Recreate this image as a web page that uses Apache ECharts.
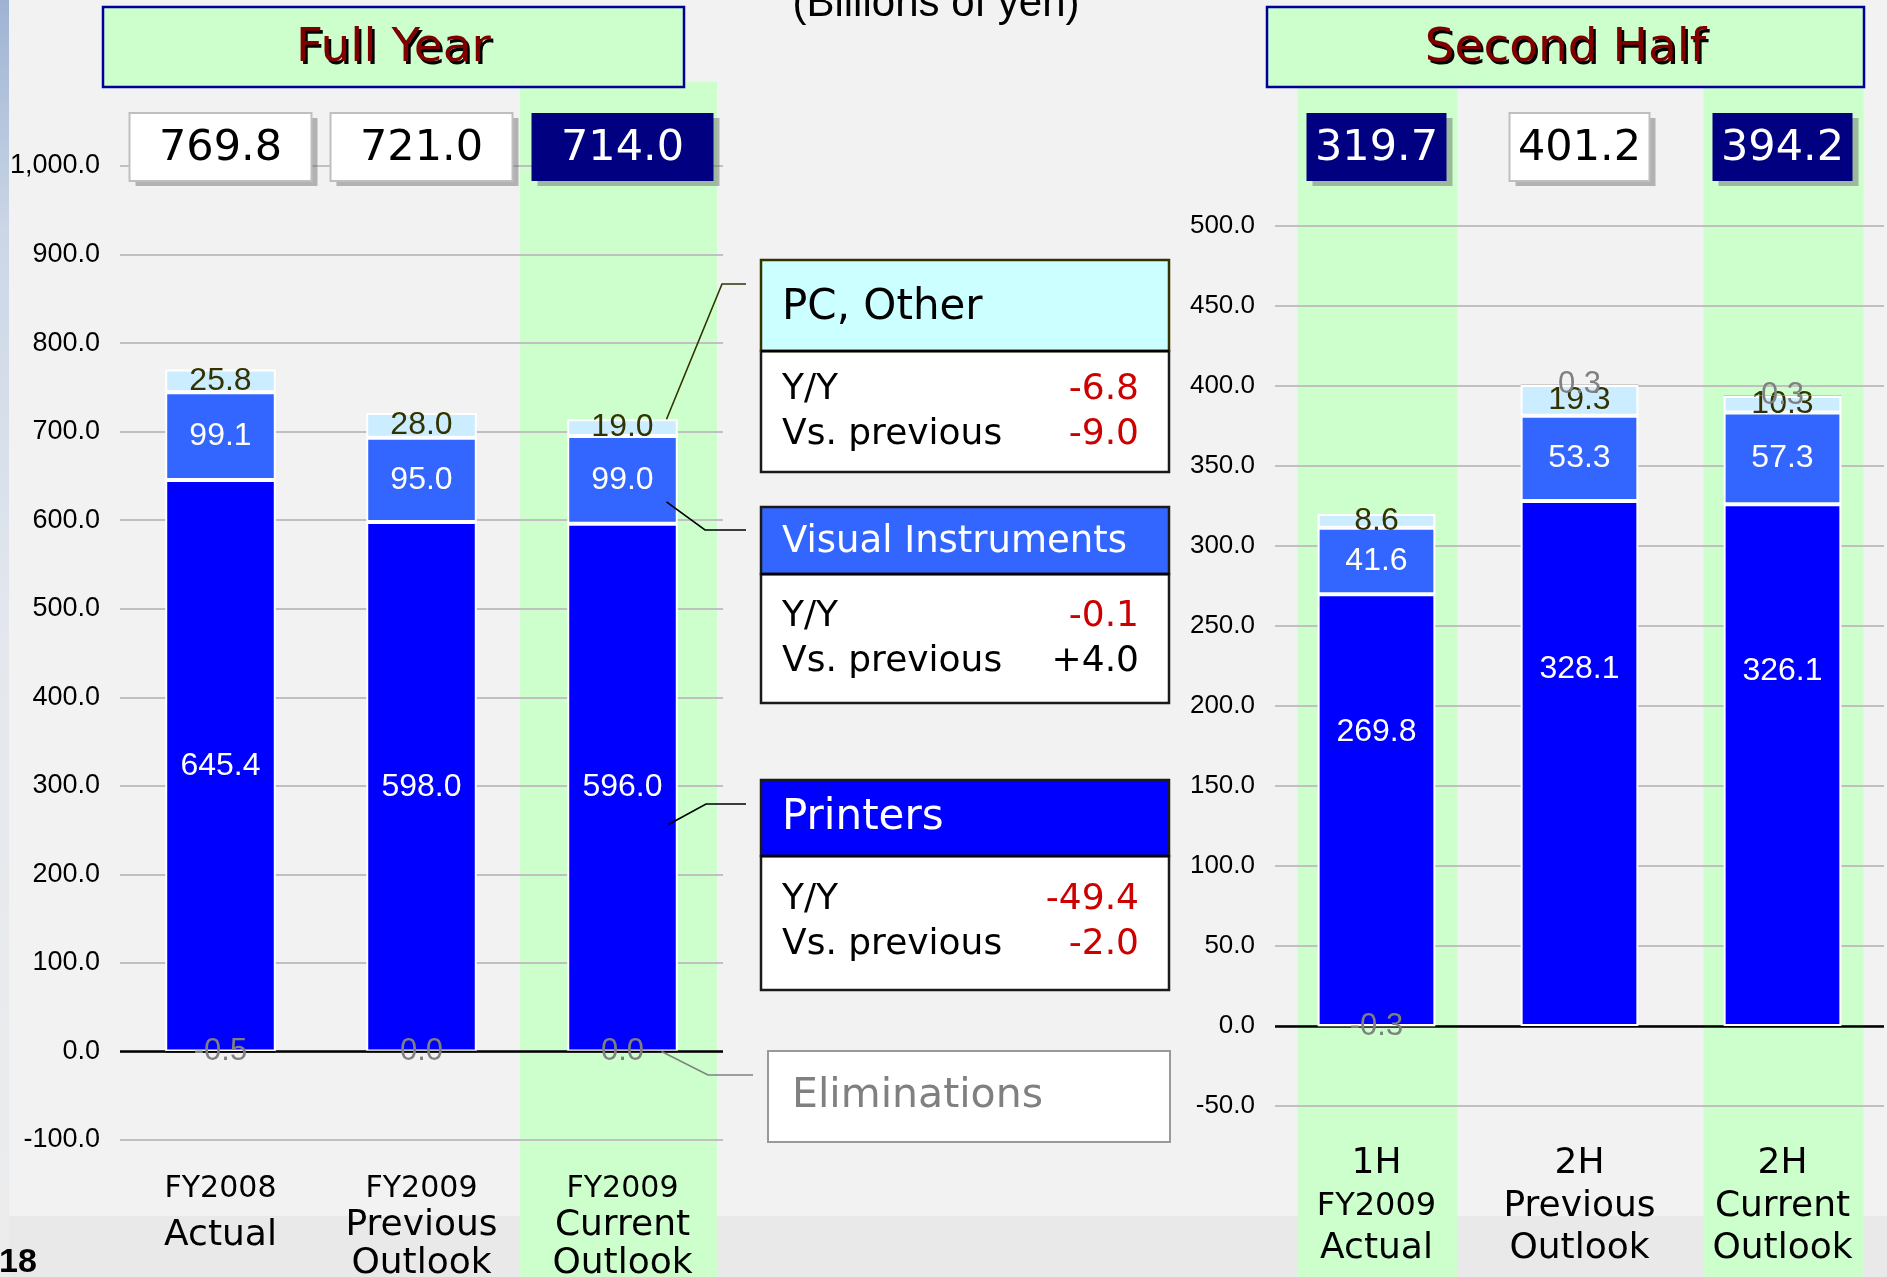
<!DOCTYPE html>
<html><head><meta charset="utf-8">
<script src="https://cdn.jsdelivr.net/npm/echarts@6/dist/echarts.min.js"></script>
<style>html,body{margin:0;padding:0;background:#F2F2F2;overflow:hidden}#c{width:1887px;height:1277px}</style>
</head><body><div id="c"></div>
<script>
// ---------- data ----------
const catsFull = ['FY2008\nActual', 'FY2009\nPrevious\nOutlook', 'FY2009\nCurrent\nOutlook'];
const printersFull = [645.4, 598.0, 596.0];
const visualFull = [99.1, 95.0, 99.0];
const pcFull = [25.8, 28.0, 19.0];
const elimFull = [-0.5, 0.0, 0.0];
const totalsFull = [769.8, 721.0, 714.0];
const currentFull = [false, false, true];

const catsHalf = ['1H\nFY2009\nActual', '2H\nPrevious\nOutlook', '2H\nCurrent\nOutlook'];
const printersHalf = [269.8, 328.1, 326.1];
const visualHalf = [41.6, 53.3, 57.3];
const pcHalf = [8.6, 19.3, 10.3];
const elimHalf = [-0.3, 0.3, 0.3];
const totalsHalf = [319.7, 401.2, 394.2];
const currentHalf = [true, false, true];

const annoNames = ['PC, Other', 'Visual Instruments', 'Printers'];
const annoYY = ['-6.8', '-0.1', '-49.4'];
const annoVs = ['-9.0', '+4.0', '-2.0'];
const elimName = 'Eliminations';
const unitText = '(Billions of yen)';
const pageNo = '18';

// ---------- style ----------
const SANS = "'Liberation Sans', Arial, sans-serif";
const VER = "'DejaVu Sans', Verdana, sans-serif";
const C_PR = '#0000FF', C_VI = '#3366FF', C_PC = '#CCECFF';

const chart = echarts.init(document.getElementById('c'), null, {renderer: 'canvas'});
const f1 = v => (Math.round(v * 10) / 10).toFixed(1);
const yFmt = v => v.toLocaleString('en-US', {minimumFractionDigits: 1, maximumFractionDigits: 1});

function catFormatter(v) {
  const lines = v.split('\n');
  return lines.map((l, i) => {
    let s = 'b';
    if (l.indexOf('FY') === 0) s = 'f';
    else if (i === 0) s = 'a';
    else if (lines.length === 2) s = 'b2';
    return '{' + s + '|' + l + '}';
  }).join('\n');
}

function mkSeries(idx, stack, pr, vi, pc, el, bw, elimStyle, prPos) {
  const lbl = (color, size, pos) => ({show: true, position: pos || 'inside', align: 'center', verticalAlign: 'middle', color, fontSize: size, fontFamily: SANS, formatter: p => f1(p.value)});
  const base = {type: 'bar', xAxisIndex: idx, yAxisIndex: idx, stack, barWidth: bw};
  return [
    Object.assign({}, base, {name: 'Printers', data: pr, itemStyle: {color: C_PR, borderColor: '#fff', borderWidth: 2}, label: lbl('#fff', 32, prPos),
      markLine: {silent: true, z: 1, symbol: ['none', 'none'], label: {show: false}, lineStyle: {color: '#000', width: 2.5, type: 'solid'}, data: [{yAxis: 0}]}}),
    Object.assign({}, base, {name: 'Visual Instruments', data: vi, itemStyle: {color: C_VI, borderColor: '#fff', borderWidth: 2}, label: lbl('#fff', 32)}),
    Object.assign({}, base, {name: 'PC, Other', data: pc, itemStyle: {color: C_PC, borderColor: '#fff', borderWidth: 2}, label: lbl('#333300', 32)}),
    Object.assign({}, base, {name: 'Eliminations', data: el, itemStyle: elimStyle.item, stackStrategy: elimStyle.strategy, label: lbl('#808080', 31), z: 3})
  ];
}

const option = {
  backgroundColor: '#F2F2F2',
  animation: false,
  grid: [
    {left: 120, top: 166, width: 603, height: 974, containLabel: false, outerBoundsMode: 'none'},
    {left: 1275, top: 226, width: 609, height: 880, containLabel: false, outerBoundsMode: 'none'}
  ],
  xAxis: [
    {gridIndex: 0, type: 'category', data: catsFull, axisLine: {show: false}, axisTick: {show: false},
      axisLabel: {interval: 0, margin: 31, formatter: catFormatter, color: '#000', fontFamily: VER,
        rich: {f: {fontSize: 30, lineHeight: 36, fontFamily: VER, color: '#000'},
               a: {fontSize: 36, lineHeight: 38, fontFamily: VER, color: '#000'},
               b: {fontSize: 36, lineHeight: 38, fontFamily: VER, color: '#000'},
               b2: {fontSize: 36, lineHeight: 58, fontFamily: VER, color: '#000'}}}},
    {gridIndex: 1, type: 'category', data: catsHalf, axisLine: {show: false}, axisTick: {show: false},
      axisLabel: {interval: 0, margin: 36, formatter: catFormatter, color: '#000', fontFamily: VER,
        rich: {f: {fontSize: 32, lineHeight: 42, fontFamily: VER, color: '#000'},
               a: {fontSize: 36, lineHeight: 44, fontFamily: VER, color: '#000'},
               b: {fontSize: 36, lineHeight: 42, fontFamily: VER, color: '#000'},
               b2: {fontSize: 36, lineHeight: 58, fontFamily: VER, color: '#000'}}}}
  ],
  yAxis: [
    {gridIndex: 0, type: 'value', min: -100, max: 1000, interval: 100, axisLine: {show: false}, axisTick: {show: false},
      axisLabel: {margin: 20, formatter: yFmt, color: '#000', fontSize: 27, fontFamily: SANS},
      splitLine: {lineStyle: {color: '#C0C0C0', width: 2}}},
    {gridIndex: 1, type: 'value', min: -50, max: 500, interval: 50, axisLine: {show: false}, axisTick: {show: false},
      axisLabel: {margin: 20, formatter: yFmt, color: '#000', fontSize: 26, fontFamily: SANS},
      splitLine: {lineStyle: {color: '#C0C0C0', width: 2}}}
  ],
  series: [].concat(
    mkSeries(0, 'full', printersFull, visualFull, pcFull, elimFull, '55%', {item: {color: '#111', borderColor: '#000', borderWidth: 1.5}, strategy: 'negative'}),
    mkSeries(1, 'half', printersHalf, visualHalf, pcHalf, elimHalf, '58%', {item: {color: '#A8A8A8', borderWidth: 0}, strategy: 'samesign'}, ['50%', '32%'])
  )
};
chart.setOption(option);

// ---------- decorations ----------
const g = [];
const W = 1887, H = 1277;
const TF = 0.28;
const px = (gi, i, v) => chart.convertToPixel({gridIndex: gi}, [i, v]);
const txt = (x, baseline, text, size, fam, fill, align, z, weight) => ({type: 'text', silent: true, z: z || 12, x, y: baseline - TF * size,
  style: {text, fontSize: size, fontFamily: fam, fontWeight: weight || 'normal', fill, align: align || 'left', verticalAlign: 'middle'}});

g.push({type: 'rect', silent: true, z: -30, shape: {x: 0, y: 1216, width: W, height: H - 1216}, style: {fill: '#E9E9E9'}});
g.push({type: 'rect', silent: true, z: -29, shape: {x: 0, y: 0, width: 9, height: H},
  style: {fill: {type: 'linear', x: 0, y: 0, x2: 0, y2: 1, colorStops: [
    {offset: 0, color: '#9EB3D3'}, {offset: 0.18, color: '#CBD6E6'}, {offset: 0.5, color: '#E4E8EE'}, {offset: 1, color: '#ECECEC'}]}}});

// highlight columns
currentFull.forEach((c, i) => { if (c) { const cx = px(0, i, 0)[0] - 4; g.push({type: 'rect', silent: true, z: -20, shape: {x: cx - 98.5, y: 82, width: 197, height: H - 82}, style: {fill: '#CCFFCC'}}); } });
currentHalf.forEach((c, i) => { if (c) { const cx = px(1, i, 0)[0] + 1; g.push({type: 'rect', silent: true, z: -20, shape: {x: cx - 80, y: 87, width: 160, height: H - 87}, style: {fill: '#CCFFCC'}}); } });

// titles
function titleBox(x, y, w, h, text) {
  g.push({type: 'rect', silent: true, z: 10, shape: {x, y, width: w, height: h}, style: {fill: '#CCFFCC', stroke: '#000099', lineWidth: 2.5}});
  g.push(txt(x + w / 2 + 2.5, 62 + 2.5, text, 47, VER, '#000', 'center', 11));
  g.push(txt(x + w / 2, 62, text, 47, VER, '#800000', 'center', 12));
}
titleBox(103, 7, 581, 80, 'Full Year');
titleBox(1267, 7, 597, 80, 'Second Half');
g.push(txt(936, 16, unitText, 42, SANS, '#000', 'center'));
g.push(txt(-1, 1272, pageNo, 34, SANS, '#000', 'left', 12, 'bold'));

// total boxes
function totalBoxes(gi, totals, current, w) {
  totals.forEach((t, i) => {
    const cx = px(gi, i, 0)[0];
    const x = cx - w / 2, y = 113, h = 68;
    g.push({type: 'rect', silent: true, z: 9, shape: {x: x + 6, y: y + 5, width: w, height: h}, style: {fill: 'rgba(100,100,100,0.45)'}});
    g.push({type: 'rect', silent: true, z: 10, shape: {x, y, width: w, height: h},
      style: current[i] ? {fill: '#000080'} : {fill: '#FFFFFF', stroke: '#BFBFBF', lineWidth: 2}});
    g.push(txt(cx, 161, f1(t), 43, VER, current[i] ? '#fff' : '#000', 'center', 11));
  });
}
totalBoxes(0, totalsFull, currentFull, 182);
totalBoxes(1, totalsHalf, currentHalf, 140);

// annotation boxes
const boxL = 761, boxR = 1169;
const hdrTop = [260, 507, 780], hdrBot = [351, 574, 856], bodyBot = [472, 703, 990];
const hdrBase = [320, 553, 830], hdrSize = [42, 37, 42];
const hdrFill = ['#CCFFFF', '#3366FF', '#0000FF'], hdrText = ['#000', '#fff', '#fff'];
const lineBase = [[400, 445], [627, 672], [910, 955]];
annoNames.forEach((n, k) => {
  g.push({type: 'rect', silent: true, z: 10, shape: {x: boxL, y: hdrBot[k], width: boxR - boxL, height: bodyBot[k] - hdrBot[k]}, style: {fill: '#fff', stroke: '#1a1a1a', lineWidth: 2.5}});
  g.push({type: 'rect', silent: true, z: 10, shape: {x: boxL, y: hdrTop[k], width: boxR - boxL, height: hdrBot[k] - hdrTop[k]}, style: {fill: hdrFill[k], stroke: k === 0 ? '#333300' : '#1a1a1a', lineWidth: 2.5}});
  g.push({type: 'line', silent: true, z: 11, shape: {x1: boxL, y1: hdrBot[k], x2: boxR, y2: hdrBot[k]}, style: {stroke: '#000', lineWidth: 2.5}});
  g.push(txt(782, hdrBase[k], n, hdrSize[k], VER, hdrText[k]));
  g.push(txt(782, lineBase[k][0], 'Y/Y', 36, VER, '#000'));
  g.push(txt(782, lineBase[k][1], 'Vs. previous', 36, VER, '#000'));
  g.push(txt(1139, lineBase[k][0], annoYY[k], 36, VER, annoYY[k][0] === '-' ? '#CC0000' : '#000', 'right'));
  g.push(txt(1139, lineBase[k][1], annoVs[k], 36, VER, annoVs[k][0] === '-' ? '#CC0000' : '#000', 'right'));
});
g.push({type: 'rect', silent: true, z: 10, shape: {x: 768, y: 1051, width: 402, height: 91}, style: {fill: '#fff', stroke: '#999', lineWidth: 2}});
g.push(txt(792, 1108, elimName, 41, VER, '#808080'));

// leader lines
const anchorVal = [totalsFull[2], printersFull[2] + visualFull[2] * 0.25, printersFull[2] * 0.43, 0];
const anchorDx = [44, 44, 46, 39];
const elbows = [[722, 284], [705, 530], [706, 804], [708, 1075]];
const ends = [746, 746, 746, 753];
const lcol = ['#333300', '#000', '#000', '#808080'];
anchorVal.forEach((v, k) => {
  const p = px(0, 2, v);
  g.push({type: 'polyline', silent: true, z: 12, shape: {points: [[p[0] + anchorDx[k], p[1]], elbows[k], [ends[k], elbows[k][1]]]}, style: {stroke: lcol[k], lineWidth: 1.6, fill: null}});
});

chart.setOption({graphic: {elements: g}});
</script></body></html>
